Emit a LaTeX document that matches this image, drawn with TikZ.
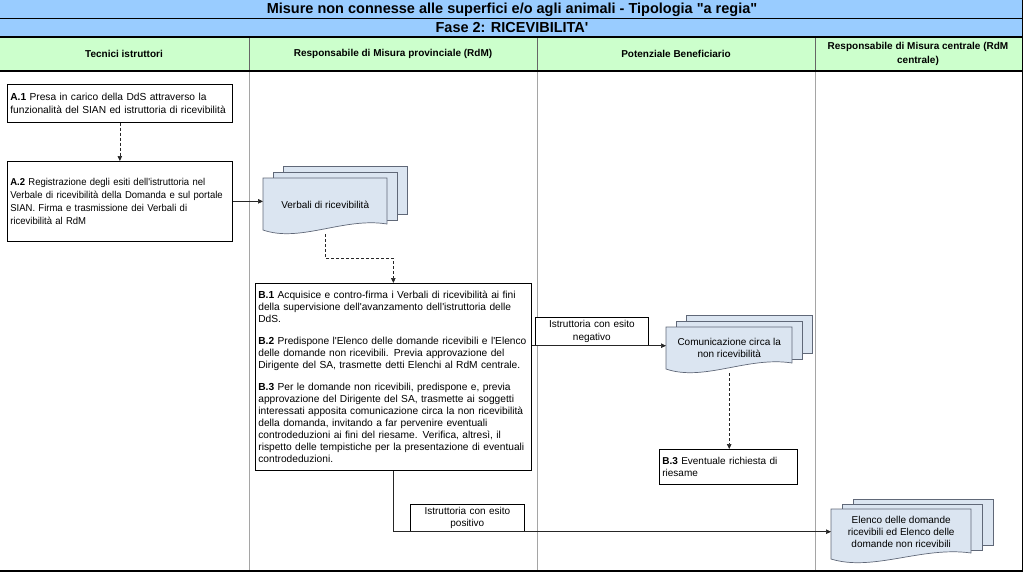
\documentclass[tikz,border=0pt]{standalone}
\usepackage{fontspec}
\setmainfont{Liberation Sans}
\newfontfamily\narrowfont[FakeStretch=0.95]{Liberation Sans}
\usetikzlibrary{arrows.meta, positioning, calc, backgrounds}
\definecolor{RegiaBlue}{RGB}{153, 204, 255}
\definecolor{RegiaGreen}{RGB}{204, 255, 204}
\definecolor{RegiaDoc}{RGB}{219, 229, 241}
\definecolor{RegiaDocLine}{RGB}{96, 104, 120}
\definecolor{RegiaLane}{RGB}{165, 165, 165}
\newcommand{\apo}{\textquotesingle}
\hyphenpenalty=10000
\exhyphenpenalty=10000

% three stacked pages behind a document node: name, width, height, step x, step y
\newcommand{\multidoc}[5]{%
  \begin{pgfonlayer}{background}
  \begin{scope}[shift={(#1.north west)}]
    \draw[docpage] (2*#4,-2*#5) rectangle ++(#2,#3-4);
    \draw[docpage] (#4,-#5) rectangle ++(#2,#3-4);
    \draw[docpage] (0,0) -- (#2,0) -- (#2,#3-6)
      .. controls (0.65*#2,#3-13) and (0.3*#2,#3+13) .. (0,#3) -- cycle;
  \end{scope}
  \end{pgfonlayer}}

\tikzset{
  stepbox/.style={draw=black, line width=0.7pt, fill=white, anchor=north west,
    inner xsep=3pt, inner ysep=2pt, align=left, font=\fontsize{10}{12.5}\selectfont},
  esitobox/.style={stepbox, align=center},
  docnode/.style={anchor=north west, inner sep=0pt, align=center, font=\fontsize{10}{12}\selectfont},
  docpage/.style={draw=RegiaDocLine, line width=0.7pt, fill=RegiaDoc},
  bandtitle/.style={font=\bfseries\fontsize{14.5}{16}\selectfont},
  lanehead/.style={align=center, font=\bfseries\fontsize{10}{14}\selectfont},
  flow/.style={draw=black!85, line width=0.7pt, -{Triangle[length=5pt,width=4.5pt]}},
  flowdash/.style={flow, dash pattern=on 3pt off 2pt}
}

\begin{document}
\begin{tikzpicture}[x=1pt, y=-1pt]
  \useasboundingbox (0,0) rectangle (1024,573);

  % bands and lanes
  \begin{pgfonlayer}{background}
    \fill[RegiaBlue] (0,0) rectangle (1022,37);
    \fill[RegiaGreen] (0,37) rectangle (1022,71);
    \draw[line width=0.8pt] (0,18) -- (1022,18);
    \foreach \lx in {249, 537, 815} {
      \draw[black!60, line width=0.8pt] (\lx,37) -- (\lx,71);
      \draw[RegiaLane, line width=1pt] (\lx,71) -- (\lx,570);
    }
    \draw[line width=2pt] (0,37) -- (1022,37);
    \draw[line width=2pt] (0,71) -- (1022,71);
    \draw[line width=2pt] (0,571) -- (1022,571);
    \draw[line width=0.8pt] (1022,0) -- (1022,572);
  \end{pgfonlayer}

  \node[bandtitle] (titolo) at (512,9.5)
    {Misure non connesse alle superfici e/o agli animali - Tipologia \textquotedbl a regia\textquotedbl};
  \node[bandtitle] (fase) at (512,27.5)
    {Fase 2: RICEVIBILITA\apo};

  \node[lanehead] (tecnici) at (124,54) {Tecnici istruttori};
  \node[lanehead] (rdmprov) at (393,54) {Responsabile di Misura provinciale (RdM)};
  \node[lanehead] (benef) at (676,54) {Potenziale Beneficiario};
  \node[lanehead] (rdmcentr) at (918,54) {Responsabile di Misura centrale (RdM\\centrale)};

  % Tecnici istruttori
  \node[stepbox, text width=219pt, minimum height=38pt, font=\fontsize{10.2}{12.5}\selectfont] (a1) at (7,84)
    {\textbf{A.1} Presa in carico della DdS attraverso la\\
     funzionalità del SIAN ed istruttoria di ricevibilità};
  \node[stepbox, text width=219pt, minimum height=80pt, font=\narrowfont\fontsize{10}{13}\selectfont] (a2) at (7,161)
    {\textbf{A.2} Registrazione degli esiti dell\apo istruttoria nel\\
     Verbale di ricevibilità della Domanda e sul portale\\
     SIAN. Firma e trasmissione dei Verbali di\\
     ricevibilità al RdM};

  % RdM provinciale
  \node[docnode, minimum width=124pt, minimum height=54pt] (verbali) at (263,178)
    {Verbali di ricevibilità};
  \multidoc{verbali}{124}{52}{10}{6}
  \node[stepbox, text width=270pt, minimum height=187pt, font=\fontsize{10.2}{12}\selectfont] (b1) at (255,283)
    {\textbf{B.1} Acquisice e contro-firma i Verbali di ricevibilità ai fini\\
     della supervisione dell\apo avanzamento dell\apo istruttoria delle\\
     DdS.\\[10pt]
     \textbf{B.2} Predispone l\apo Elenco delle domande ricevibili e l\apo Elenco\\
     delle domande non ricevibili. Previa approvazione del\\
     Dirigente del SA, trasmette detti Elenchi al RdM centrale.\\[10pt]
     \textbf{B.3} Per le domande non ricevibili, predispone e, previa\\
     approvazione del Dirigente del SA, trasmette ai soggetti\\
     interessati apposita comunicazione circa la non ricevibilità\\
     della domanda, invitando a far pervenire eventuali\\
     controdeduzioni ai fini del riesame. Verifica, altresì, il\\
     rispetto delle tempistiche per la presentazione di eventuali\\
     controdeduzioni.};
  \node[esitobox, text width=107pt, minimum height=28pt] (negativo) at (535,317)
    {Istruttoria con esito\\negativo};
  \node[esitobox, text width=108pt, minimum height=27pt] (positivo) at (410,504)
    {Istruttoria con esito\\positivo};

  % Potenziale Beneficiario
  \node[docnode, minimum width=126pt, minimum height=42pt] (comunic) at (666,327)
    {Comunicazione circa la\\non ricevibilità};
  \multidoc{comunic}{126}{42}{10}{6}
  \node[stepbox, text width=132pt, minimum height=35pt] (b3) at (659,449)
    {\textbf{B.3} Eventuale richiesta di\\riesame};

  % RdM centrale
  \node[docnode, minimum width=140pt, minimum height=46pt] (elenco) at (831,509)
    {Elenco delle domande\\ricevibili ed Elenco delle\\domande non ricevibili};
  \multidoc{elenco}{140}{50}{11}{5}

  % connectors
  \draw[flowdash] (a1) -- (a2);
  \draw[flow] (a2.east) -- (a2.east -| verbali.west);
  \draw[flowdash] ([yshift=-2pt]verbali.south) -- ++(0,24) -| (b1.north);
  \draw[flow] (b1.east |- negativo.south) -- (negativo.south -| comunic.west);
  \draw[flowdash] ([yshift=-4pt]comunic.south) -- (comunic.south |- b3.north);
  \draw[flow] (b1.south) |- (positivo.south -| elenco.west);
\end{tikzpicture}
\end{document}
